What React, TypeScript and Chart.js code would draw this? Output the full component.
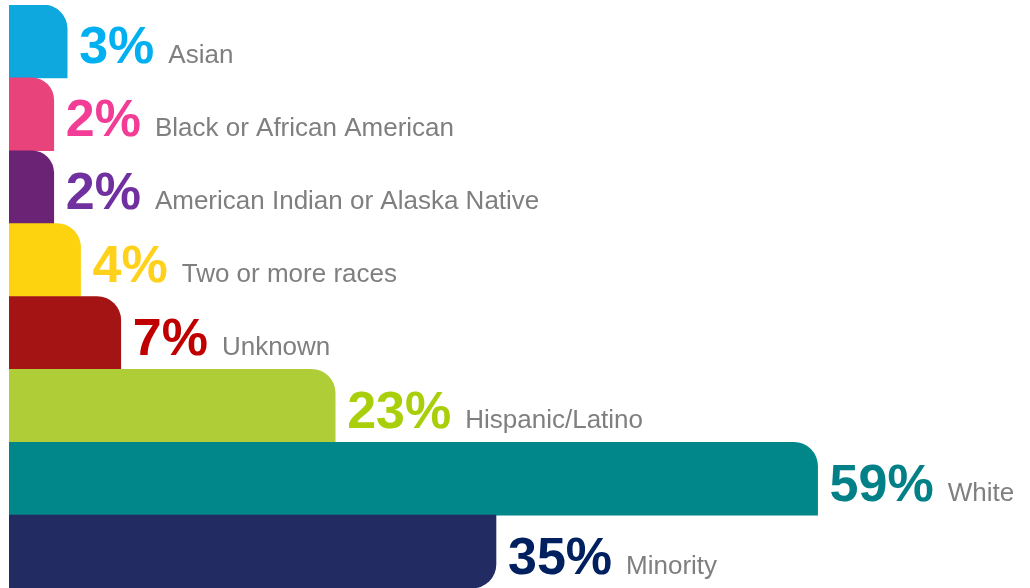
import React, { useEffect, useRef } from "react";
import { Chart, registerables } from "chart.js";

Chart.register(...registerables);

const categories = [
  "Asian",
  "Black or African American",
  "American Indian or Alaska Native",
  "Two or more races",
  "Unknown",
  "Hispanic/Latino",
  "White",
  "Minority",
];
const percentValues = [3, 2, 2, 4, 7, 23, 59, 35];
const barColors = ["#0EA7DE", "#E8437A", "#6B2376", "#FDD30F", "#A41414", "#AECD36", "#01868A", "#222B62"];
const textColors = ["#00B0F0", "#F23C95", "#7030A0", "#FFD11A", "#C00000", "#A8CF0A", "#028087", "#002060"];

const AXIS_MIN = -1.34;
const AXIS_MAX = 74.85;

const labelPlugin = {
  id: "barLabels",
  afterDatasetsDraw(chart: any) {
    const ctx = chart.ctx;
    const meta = chart.getDatasetMeta(0);
    ctx.save();
    ctx.textBaseline = "alphabetic";
    ctx.textAlign = "left";
    meta.data.forEach((bar: any, i: number) => {
      const pct = `${percentValues[i]}%`;
      const baseX = bar.x + 12;
      const baseY = bar.y + 22;
      ctx.font = "bold 52px 'Liberation Sans', Arial, sans-serif";
      ctx.fillStyle = textColors[i];
      ctx.fillText(pct, baseX, baseY);
      const w = ctx.measureText(pct).width;
      ctx.font = "26px 'Liberation Sans', Arial, sans-serif";
      ctx.fillStyle = "#7F7F7F";
      ctx.fillText(categories[i], baseX + w + 14, baseY);
    });
    ctx.restore();
  },
};

export default function App() {
  const ref = useRef<HTMLCanvasElement | null>(null);

  useEffect(() => {
    if (!ref.current) return;
    const last = categories.length - 1;
    const chart = new Chart(ref.current, {
      type: "bar",
      data: {
        labels: categories,
        datasets: [
          {
            data: percentValues,
            base: AXIS_MIN,
            backgroundColor: barColors,
            borderWidth: 0,
            barPercentage: 1,
            categoryPercentage: 1,
            borderSkipped: "start",
            borderRadius: (c: any) =>
              c.dataIndex === last
                ? { topLeft: 0, topRight: 0, bottomLeft: 0, bottomRight: 24 }
                : { topLeft: 0, topRight: 24, bottomLeft: 0, bottomRight: 0 },
          } as any,
        ],
      },
      options: {
        indexAxis: "y",
        animation: false,
        responsive: true,
        maintainAspectRatio: false,
        layout: { padding: { left: 9, top: 5, right: 0, bottom: 0 } },
        plugins: {
          legend: { display: false },
          tooltip: { enabled: false },
        },
        scales: {
          x: { display: false, min: AXIS_MIN, max: AXIS_MAX },
          y: { display: false },
        },
      },
      plugins: [labelPlugin],
    });
    return () => chart.destroy();
  }, []);

  return (
    <div style={{ position: "absolute", left: 0, top: 0, width: 1030, height: 588, background: "#fff" }}>
      <canvas ref={ref} />
    </div>
  );
}
